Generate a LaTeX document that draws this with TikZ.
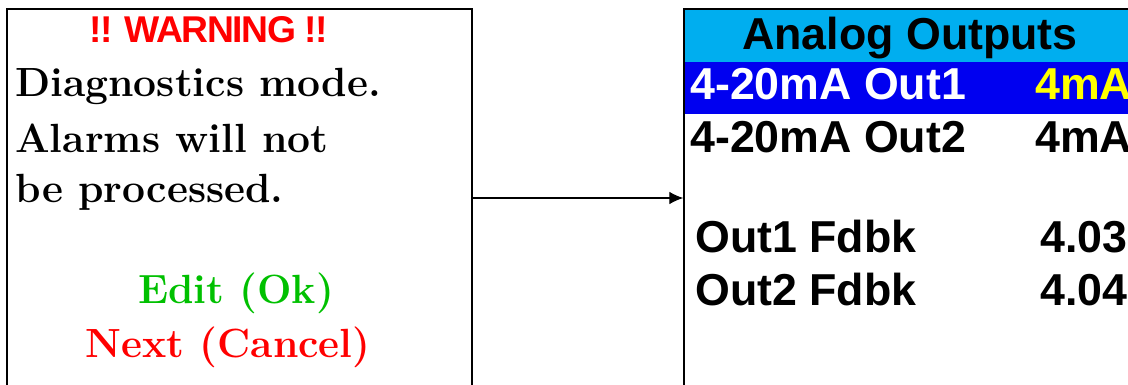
\documentclass[tikz,border=0pt]{standalone}
\usepackage{fontspec}
\newfontfamily\lcdsans{Liberation Sans}
\newfontfamily\lcdtight[LetterSpace=-4]{Liberation Sans}
\usetikzlibrary{arrows.meta, positioning}
\definecolor{hdrcyan}{HTML}{00AEEF}
\definecolor{selblue}{HTML}{0000F0}
\definecolor{okgreen}{HTML}{00C000}
\definecolor{warnred}{HTML}{FF0000}
\definecolor{valyellow}{HTML}{FFFF00}

\begin{document}
\begin{tikzpicture}[x=0.025cm, y=-0.025cm]
\tikzstyle{screen} = [rectangle, draw=black, line width=0.9pt, minimum width=11.625cm, minimum height=9.45cm, inner sep=0pt]
\tikzstyle{msg} = [anchor=base west, inner sep=0pt, font=\fontsize{29}{31}\selectfont\bfseries]
\tikzstyle{softkey} = [anchor=base, inner sep=0pt, font=\fontsize{29}{31}\selectfont\bfseries]
\tikzstyle{row} = [anchor=base west, inner sep=0pt, font=\lcdsans\fontsize{31.8}{34}\selectfont\bfseries]

\clip (0,0) rectangle (1128,385);

% Warning screen
\node (warn) [screen] at (239.5,198) {};
\node (warntitle) [anchor=base, inner sep=0pt, text=warnred, font=\lcdtight\fontsize{26.5}{28}\selectfont\bfseries] at (209,43) {!! WARNING !!};
\node (line1) [msg] at (15,97) {Diagnostics mode.};
\node (line2) [msg] at (15,153) {Alarms will not};
\node (line3) [msg] at (15,203) {be processed.};
\node (editok) [softkey, text=okgreen] at (236,303) {Edit (Ok)};
\node (nextcancel) [softkey, text=warnred] at (228,357) {Next (Cancel)};

% Analog outputs screen
\fill[hdrcyan] (684,9) rectangle (1150,62);
\fill[selblue] (684,62) rectangle (1150,114);
\node (aout) [screen] at (916.5,198) {};
\node (aouttitle) [row, anchor=base] at (910,50) {Analog Outputs};
\node (out1) [row, text=white] at (690,100) {4-20mA Out1};
\node (out1val) [row, text=valyellow] at (1035,100) {4mA};
\node (out2) [row] at (690,153) {4-20mA Out2};
\node (out2val) [row] at (1035,153) {4mA};
\node (fb1) [row] at (695,253) {Out1 Fdbk};
\node (fb1val) [row] at (1040,253) {4.03};
\node (fb2) [row] at (695,305) {Out2 Fdbk};
\node (fb2val) [row] at (1040,305) {4.04};

% Transition
\draw[-{Latex[length=10pt,width=9pt]}, line width=0.8pt] (warn) -- (aout);

\end{tikzpicture}
\end{document}
